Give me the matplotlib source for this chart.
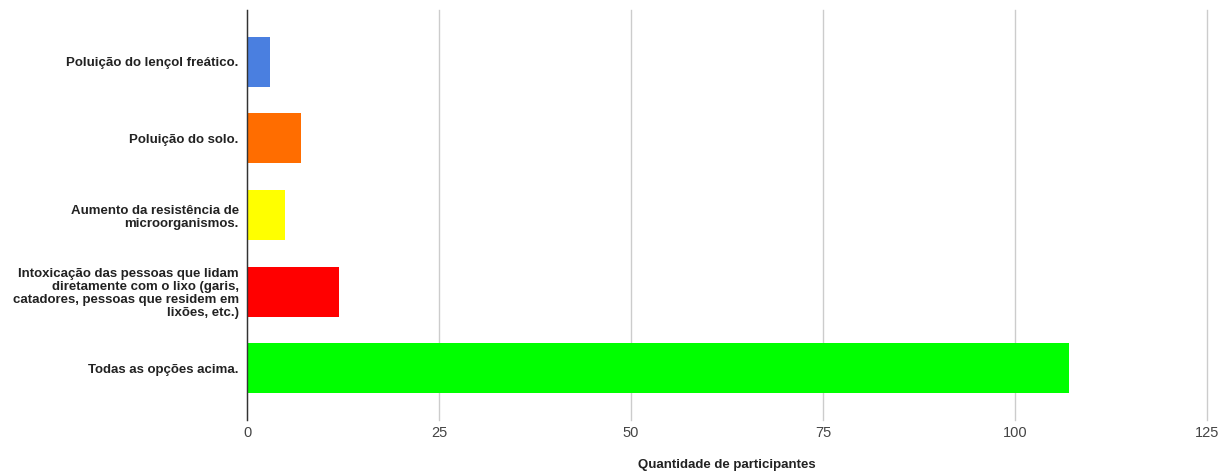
import matplotlib.pyplot as plt

categorias = [
    "Poluição do lençol freático.",
    "Poluição do solo.",
    "Aumento da resistência de\nmicroorganismos.",
    "Intoxicação das pessoas que lidam\ndiretamente com o lixo (garis,\ncatadores, pessoas que residem em\nlixões, etc.)",
    "Todas as opções acima.",
]
valores = [3, 7, 5, 12, 107]
cores = ["#4a7fe0", "#ff6d00", "#ffff00", "#ff0000", "#00ff00"]
xticks = [0, 25, 50, 75, 100, 125]

plt.rcParams['font.family'] = ['Liberation Sans', 'DejaVu Sans']

fig = plt.figure(figsize=(12.3, 4.73), dpi=100)
ax = fig.add_axes([247 / 1230, 1 - 420 / 473, 960 / 1230, 410 / 473])

pos = list(range(len(categorias)))
ax.barh(pos, valores, height=0.65, color=cores, zorder=3)

ax.set_xlim(0, 125)
ax.set_ylim(4.675, -0.675)
ax.set_xticks(xticks)
ax.set_xticklabels([str(t) for t in xticks], fontsize=10.5, color="#444444")
ax.set_yticks(pos)
ax.set_yticklabels(categorias, fontsize=9.5, fontweight="bold", color="#222222",
                   linespacing=1.12)
ax.tick_params(axis="both", length=0)
ax.tick_params(axis="y", pad=6)
ax.tick_params(axis="x", pad=4)

ax.grid(axis="x", color="#cccccc", linewidth=1, zorder=0)
for gl in ax.get_xgridlines():
    gl.set_clip_on(False)
for s in ["top", "right", "bottom"]:
    ax.spines[s].set_visible(False)
ax.spines["left"].set_color("#333333")
ax.spines["left"].set_linewidth(1)
ax.spines["left"].set_zorder(4)

ax.set_xlabel("Quantidade de participantes", fontsize=9.5, fontweight="bold",
              color="#222222", labelpad=14)

fig.savefig("out.png", dpi=100)
